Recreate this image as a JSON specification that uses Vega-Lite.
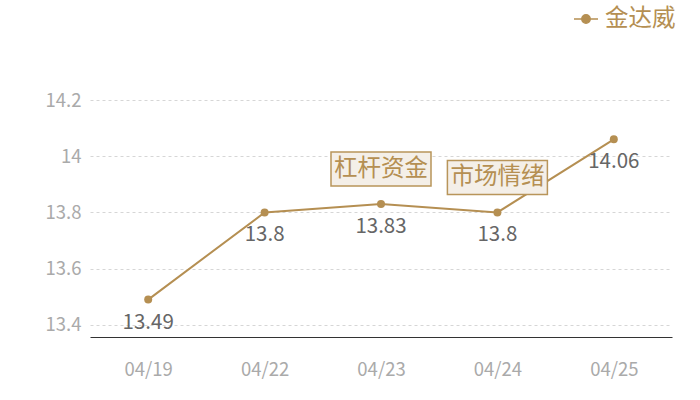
{
  "$schema": "https://vega.github.io/schema/vega-lite/v6.json",
  "width": 582,
  "height": 237,
  "autosize": "none",
  "padding": {"left": 90, "top": 100, "right": 28, "bottom": 63},
  "background": "white",
  "config": {
    "font": "Noto Sans CJK SC",
    "view": {"stroke": null}
  },
  "data": {
    "values": [
      {"date": "04/19", "value": 13.49, "series": "金达威", "note": null},
      {"date": "04/22", "value": 13.8, "series": "金达威", "note": null},
      {"date": "04/23", "value": 13.83, "series": "金达威", "note": "杠杆资金"},
      {"date": "04/24", "value": 13.8, "series": "金达威", "note": "市场情绪"},
      {"date": "04/25", "value": 14.06, "series": "金达威", "note": null}
    ]
  },
  "encoding": {
    "x": {
      "field": "date",
      "type": "ordinal",
      "sort": null,
      "scale": {"type": "point", "padding": 0.5},
      "axis": {
        "title": null,
        "labelAngle": 0,
        "labelColor": "#aaaaaa",
        "labelFontSize": 18.5,
        "labelPadding": 23,
        "ticks": false,
        "domainColor": "#333333",
        "domainWidth": 1,
        "grid": false
      }
    },
    "y": {
      "field": "value",
      "type": "quantitative",
      "scale": {"domain": [13.357, 14.2], "nice": false, "zero": false},
      "axis": {
        "title": null,
        "values": [13.4, 13.6, 13.8, 14, 14.2],
        "format": "~g",
        "labelColor": "#aaaaaa",
        "labelFontSize": 18.5,
        "labelPadding": 9,
        "ticks": false,
        "domain": false,
        "gridColor": "#d6d6d6",
        "gridDash": [3, 3],
        "gridWidth": 1
      }
    }
  },
  "layer": [
    {
      "mark": {"type": "line", "color": "#b58f52", "strokeWidth": 2},
      "encoding": {
        "color": {
          "field": "series",
          "type": "nominal",
          "scale": {"range": ["#b58f52"]},
          "legend": {
            "title": null,
            "orient": "none",
            "legendX": 483,
            "legendY": -94,
            "symbolType": "M-1,0L1,0M0.35,0A0.35,0.35 0 1,1 -0.35,0A0.35,0.35 0 1,1 0.35,0Z",
            "symbolSize": 576,
            "symbolStrokeWidth": 1.5,
            "symbolFillColor": "#b58f52",
            "symbolStrokeColor": "#b58f52",
            "labelColor": "#b58f52",
            "labelFontSize": 23.5,
            "labelOffset": 6
          }
        }
      }
    },
    {
      "mark": {"type": "point", "filled": true, "color": "#b58f52", "size": 64, "opacity": 1}
    },
    {
      "mark": {"type": "text", "color": "#666666", "fontSize": 20.5, "dy": 23},
      "encoding": {"text": {"field": "value", "type": "quantitative", "format": "~g"}}
    },
    {
      "transform": [{"filter": "datum.note != null"}],
      "mark": {
        "type": "point",
        "shape": "M-1,-0.34L1,-0.34L1,0.34L-1,0.34Z",
        "size": 10000,
        "filled": false,
        "fill": "#f4efe8",
        "fillOpacity": 1,
        "stroke": "#b8955a",
        "strokeWidth": 1.5,
        "opacity": 1,
        "yOffset": -35
      }
    },
    {
      "transform": [{"filter": "datum.note != null"}],
      "mark": {"type": "text", "color": "#b58f52", "fontSize": 23.5, "dy": -35},
      "encoding": {"text": {"field": "note"}}
    }
  ]
}
